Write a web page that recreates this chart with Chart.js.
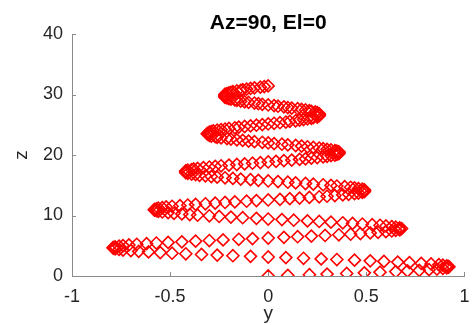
<!DOCTYPE html>
<html>
<head>
<meta charset="utf-8">
<script src="https://cdn.jsdelivr.net/npm/chart.js@4/dist/chart.umd.min.js"></script>
<style>
  html, body { margin: 0; padding: 0; background: #fff; }
  #wrap { width: 472px; height: 325px; }
</style>
</head>
<body>
<div id="wrap"><canvas id="helix"></canvas></div>
<script>
// chart text
const titleText = 'Az=90, El=0';
const xLabel = 'y';
const yLabel = 'z';

// tick positions
const xTicks = [-1, -0.5, 0, 0.5, 1];
const zTicks = [0, 10, 20, 30, 40];

// y coordinate of each marker (one row per half turn)
const yVals = [
    0, 0.10, 0.21, 0.30, 0.40, 0.49, 0.57, 0.65, 0.71, 0.77, 0.82, 0.86, 0.89, 0.91, 0.92, 0.92, 0.91, 0.89, 0.87, 0.83, 0.78, 0.72, 0.66, 0.59, 0.52, 0.44, 0.35, 0.27, 0.18, 0.09,
    0, -0.09, -0.18, -0.26, -0.34, -0.42, -0.49, -0.55, -0.61, -0.66, -0.70, -0.74, -0.76, -0.78, -0.79, -0.79, -0.78, -0.76, -0.74, -0.71, -0.67, -0.62, -0.57, -0.51, -0.44, -0.37, -0.30, -0.23, -0.15, -0.08,
    0, 0.08, 0.15, 0.22, 0.29, 0.36, 0.42, 0.47, 0.52, 0.56, 0.60, 0.63, 0.65, 0.67, 0.67, 0.68, 0.67, 0.65, 0.63, 0.60, 0.57, 0.53, 0.48, 0.43, 0.38, 0.32, 0.26, 0.20, 0.13, 0.07,
    0, -0.06, -0.13, -0.19, -0.25, -0.30, -0.36, -0.40, -0.44, -0.48, -0.51, -0.54, -0.56, -0.57, -0.58, -0.58, -0.57, -0.56, -0.54, -0.52, -0.49, -0.45, -0.41, -0.37, -0.32, -0.27, -0.22, -0.17, -0.11, -0.06,
    0, 0.06, 0.11, 0.16, 0.21, 0.26, 0.30, 0.34, 0.38, 0.41, 0.44, 0.46, 0.48, 0.49, 0.49, 0.49, 0.49, 0.48, 0.46, 0.44, 0.42, 0.39, 0.35, 0.32, 0.28, 0.23, 0.19, 0.14, 0.10, 0.05,
    0, -0.05, -0.09, -0.14, -0.18, -0.22, -0.26, -0.29, -0.32, -0.35, -0.37, -0.39, -0.41, -0.42, -0.42, -0.42, -0.42, -0.41, -0.39, -0.38, -0.36, -0.33, -0.30, -0.27, -0.24, -0.20, -0.16, -0.12, -0.08, -0.04,
    0, 0.04, 0.08, 0.12, 0.16, 0.19, 0.22, 0.25, 0.28, 0.30, 0.32, 0.34, 0.35, 0.36, 0.36, 0.36, 0.36, 0.35, 0.34, 0.32, 0.30, 0.28, 0.26, 0.23, 0.20, 0.17, 0.14, 0.10, 0.07, 0.03,
    0, -0.03, -0.07, -0.10, -0.13, -0.16, -0.19, -0.21, -0.24, -0.26, -0.27, -0.29, -0.30, -0.30, -0.31, -0.31, -0.30, -0.30, -0.29, -0.28, -0.26, -0.24, -0.22, -0.20, -0.17, -0.15, -0.12, -0.09, -0.06, -0.03,
    0, 0.03, 0.06, 0.09, 0.11, 0.14, 0.16, 0.18, 0.20, 0.22, 0.23, 0.25, 0.25, 0.26, 0.26, 0.26, 0.26, 0.25, 0.25, 0.24, 0.22, 0.21, 0.19, 0.17, 0.15, 0.12, 0.10, 0.08, 0.05, 0.03,
    0, -0.03, -0.05, -0.07, -0.10, -0.12, -0.14, -0.16, -0.17, -0.19, -0.20, -0.21, -0.22, -0.22, -0.22, -0.22, -0.22, -0.22, -0.21, -0.20, -0.19, -0.18, -0.16, -0.14, -0.13, -0.11, -0.09, -0.07, -0.04, -0.02,
    0
];

// z coordinate of each marker
const zVals = [
    0, 0.10, 0.21, 0.31, 0.42, 0.52, 0.63, 0.73, 0.84, 0.94, 1.05, 1.15, 1.26, 1.36, 1.47, 1.57, 1.68, 1.78, 1.88, 1.99, 2.09, 2.20, 2.30, 2.41, 2.51, 2.62, 2.72, 2.83, 2.93, 3.04,
    3.14, 3.25, 3.35, 3.46, 3.56, 3.67, 3.77, 3.87, 3.98, 4.08, 4.19, 4.29, 4.40, 4.50, 4.61, 4.71, 4.82, 4.92, 5.03, 5.13, 5.24, 5.34, 5.45, 5.55, 5.65, 5.76, 5.86, 5.97, 6.07, 6.18,
    6.28, 6.39, 6.49, 6.60, 6.70, 6.81, 6.91, 7.02, 7.12, 7.23, 7.33, 7.44, 7.54, 7.64, 7.75, 7.85, 7.96, 8.06, 8.17, 8.27, 8.38, 8.48, 8.59, 8.69, 8.80, 8.90, 9.01, 9.11, 9.22, 9.32,
    9.42, 9.53, 9.63, 9.74, 9.84, 9.95, 10.05, 10.16, 10.26, 10.37, 10.47, 10.58, 10.68, 10.79, 10.89, 11.00, 11.10, 11.20, 11.31, 11.41, 11.52, 11.62, 11.73, 11.83, 11.94, 12.04, 12.15, 12.25, 12.36, 12.46,
    12.57, 12.67, 12.78, 12.88, 12.99, 13.09, 13.19, 13.30, 13.40, 13.51, 13.61, 13.72, 13.82, 13.93, 14.03, 14.14, 14.24, 14.35, 14.45, 14.56, 14.66, 14.77, 14.87, 14.97, 15.08, 15.18, 15.29, 15.39, 15.50, 15.60,
    15.71, 15.81, 15.92, 16.02, 16.13, 16.23, 16.34, 16.44, 16.55, 16.65, 16.76, 16.86, 16.96, 17.07, 17.17, 17.28, 17.38, 17.49, 17.59, 17.70, 17.80, 17.91, 18.01, 18.12, 18.22, 18.33, 18.43, 18.53, 18.64, 18.74,
    18.85, 18.95, 19.06, 19.16, 19.27, 19.37, 19.48, 19.58, 19.69, 19.79, 19.90, 20.00, 20.11, 20.21, 20.32, 20.42, 20.53, 20.63, 20.73, 20.84, 20.94, 21.05, 21.15, 21.26, 21.36, 21.47, 21.57, 21.68, 21.78, 21.89,
    21.99, 22.10, 22.20, 22.30, 22.41, 22.51, 22.62, 22.72, 22.83, 22.93, 23.04, 23.14, 23.25, 23.35, 23.46, 23.56, 23.67, 23.77, 23.88, 23.98, 24.09, 24.19, 24.29, 24.40, 24.50, 24.61, 24.71, 24.82, 24.92, 25.03,
    25.13, 25.24, 25.34, 25.45, 25.55, 25.66, 25.76, 25.86, 25.97, 26.07, 26.18, 26.28, 26.39, 26.49, 26.60, 26.70, 26.81, 26.91, 27.02, 27.12, 27.23, 27.33, 27.44, 27.54, 27.65, 27.75, 27.85, 27.96, 28.06, 28.17,
    28.27, 28.38, 28.48, 28.59, 28.69, 28.80, 28.90, 29.01, 29.11, 29.22, 29.32, 29.43, 29.53, 29.64, 29.74, 29.85, 29.95, 30.05, 30.16, 30.26, 30.37, 30.47, 30.58, 30.68, 30.79, 30.89, 31.00, 31.10, 31.21, 31.31,
    31.42
];

const fontFamily = '"Liberation Sans", Arial, Helvetica, sans-serif';
const textColor = '#262626';
const axisColor = '#8a8a8a';

// MATLAB style ticks pointing into the axes, plus the title over the axes
const inwardTicks = {
    id: 'inwardTicks',
    afterDraw(chart) {
        const ctx = chart.ctx;
        const area = chart.chartArea;
        const xs = chart.scales.x;
        const ys = chart.scales.y;
        ctx.save();
        ctx.strokeStyle = axisColor;
        ctx.lineWidth = 1;
        ctx.beginPath();
        xTicks.forEach(v => {
            const px = Math.round(xs.getPixelForValue(v)) + 0.5;
            ctx.moveTo(px, area.bottom);
            ctx.lineTo(px, area.bottom - 4);
        });
        zTicks.forEach(v => {
            const py = Math.round(ys.getPixelForValue(v)) + 0.5;
            ctx.moveTo(area.left, py);
            ctx.lineTo(area.left + 4, py);
        });
        ctx.stroke();

        ctx.fillStyle = '#000';
        ctx.font = 'bold 21px ' + fontFamily;
        ctx.textAlign = 'center';
        ctx.textBaseline = 'alphabetic';
        ctx.fillText(titleText, (area.left + area.right) / 2, 29);
        ctx.restore();
    }
};

const points = yVals.map((y, i) => ({ x: y, y: zVals[i] }));

new Chart(document.getElementById('helix').getContext('2d'), {
    type: 'scatter',
    data: {
        datasets: [{
            data: points,
            pointStyle: 'rectRot',
            pointRadius: 6,
            pointBorderWidth: 1.6,
            pointBorderColor: '#ff0000',
            pointBackgroundColor: 'rgba(0,0,0,0)',
            showLine: false
        }]
    },
    options: {
        responsive: true,
        maintainAspectRatio: false,
        animation: false,
        layout: { padding: { left: 0, right: 5, top: 34, bottom: 0 } },
        plugins: {
            legend: { display: false },
            tooltip: { enabled: false }
        },
        scales: {
            x: {
                type: 'linear',
                min: -1,
                max: 1,
                afterFit: scale => {
                    scale.height = 49;
                    scale.paddingLeft = 0;
                    scale.paddingRight = 0;
                },
                afterBuildTicks: scale => { scale.ticks = xTicks.map(v => ({ value: v })); },
                grid: { display: true, drawOnChartArea: false, drawTicks: false },
                border: { display: true, color: axisColor, width: 1 },
                ticks: {
                    padding: 10,
                    color: textColor,
                    font: { family: fontFamily, size: 18 },
                    callback: v => String(v)
                },
                title: {
                    display: true,
                    text: xLabel,
                    color: textColor,
                    padding: { top: 0, bottom: 0 },
                    font: { family: fontFamily, size: 19 }
                }
            },
            y: {
                type: 'linear',
                min: 0,
                max: 40,
                afterFit: scale => {
                    scale.width = 72;
                    scale.paddingTop = 0;
                    scale.paddingBottom = 0;
                },
                afterBuildTicks: scale => { scale.ticks = zTicks.map(v => ({ value: v })); },
                grid: { display: true, drawOnChartArea: false, drawTicks: false },
                border: { display: true, color: axisColor, width: 1 },
                ticks: {
                    padding: 9,
                    color: textColor,
                    font: { family: fontFamily, size: 18 },
                    callback: v => String(v)
                },
                title: {
                    display: true,
                    text: yLabel,
                    color: textColor,
                    padding: { top: 10, bottom: 0 },
                    font: { family: fontFamily, size: 19 }
                }
            }
        }
    },
    plugins: [inwardTicks]
});
</script>
</body>
</html>
